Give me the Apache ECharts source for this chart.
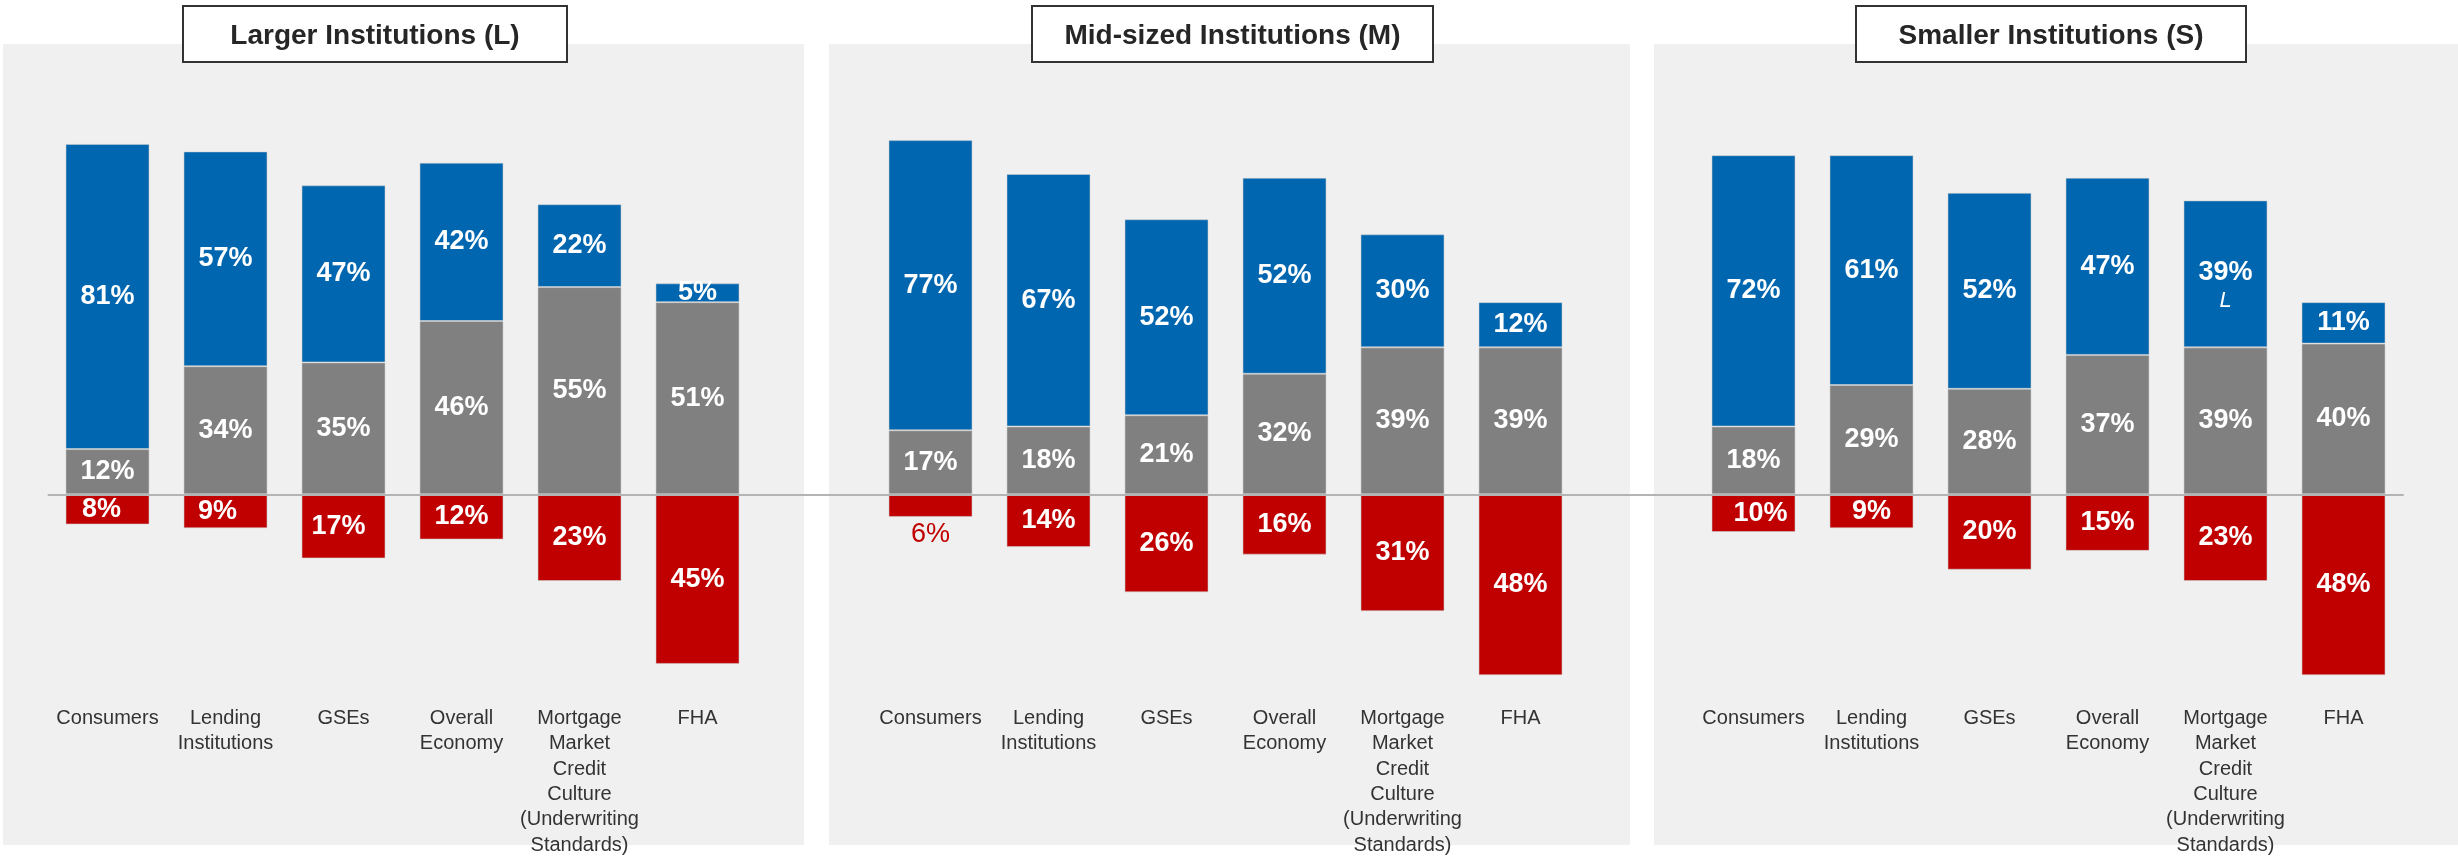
<!DOCTYPE html>
<html>
<head>
<meta charset="utf-8">
<title>Institution outlook by size</title>
<script src="https://cdn.jsdelivr.net/npm/echarts@6/dist/echarts.min.js"></script>
<style>
  html, body { margin: 0; padding: 0; background: #ffffff; }
  #chart { width: 2458px; height: 858px; }
</style>
</head>
<body>
<div id="chart"></div>
<script>
// ---- data ----
const categories = [
  'Consumers',
  'Lending\nInstitutions',
  'GSEs',
  'Overall\nEconomy',
  'Mortgage\nMarket\nCredit\nCulture\n(Underwriting\nStandards)',
  'FHA'
];
const panelTitles = ['Larger Institutions (L)', 'Mid-sized Institutions (M)', 'Smaller Institutions (S)'];

// blue (upper), gray (middle), red (below the line), in %
const positiveL = [81, 57, 47, 42, 22, 5];
const neutralL  = [12, 34, 35, 46, 55, 51];
const negativeL = [8, 9, 17, 12, 23, 45];

const positiveM = [77, 67, 52, 52, 30, 12];
const neutralM  = [17, 18, 21, 32, 39, 39];
const negativeM = [6, 14, 26, 16, 31, 48];

const positiveS = [72, 61, 52, 47, 39, 11];
const neutralS  = [18, 29, 28, 37, 39, 40];
const negativeS = [10, 9, 20, 15, 23, 48];
const positiveNotesS = ['', '', '', '', 'L', ''];

// ---- layout & style ----
const FONT = "'Liberation Sans', Arial, Helvetica, sans-serif";
const BLUE = '#0066b0', GRAY = '#808080', RED = '#c00000';
const Y_MIN = -55, Y_MAX = 100;
const GRID_TOP = 117.5, GRID_HEIGHT = 584.4;
const panels = [
  { key: 'L', pos: positiveL, mid: neutralL, neg: negativeL, notes: null,
    rect: [3, 44, 801, 801], grid: [48.5, 708], title: [183, 6, 384, 56] },
  { key: 'M', pos: positiveM, mid: neutralM, neg: negativeM, notes: null,
    rect: [829, 44, 801, 801], grid: [871.5, 708], title: [1032, 6, 401, 56] },
  { key: 'S', pos: positiveS, mid: neutralS, neg: negativeS, notes: positiveNotesS,
    rect: [1654, 44, 804, 801], grid: [1694.5, 708], title: [1856, 6, 390, 56] }
];
// small horizontal nudges of a few value labels
const labelNudge = { 'L-0': -6, 'L-1': -8, 'L-2': -5, 'S-0': 7 };

const grids = [], xAxes = [], yAxes = [], series = [], graphics = [];

panels.forEach((p, i) => {
  grids.push({ left: p.grid[0], width: p.grid[1], top: GRID_TOP, height: GRID_HEIGHT });
  xAxes.push({
    type: 'category', gridIndex: i, data: categories,
    axisLine: { show: false, onZero: false },
    axisTick: { show: false },
    axisLabel: { interval: 0, margin: 4, fontFamily: FONT, fontSize: 20, lineHeight: 25.4, color: '#333333' }
  });
  yAxes.push({ type: 'value', gridIndex: i, min: Y_MIN, max: Y_MAX, show: false, splitLine: { show: false } });

  const baseLabel = {
    show: true, position: 'inside', color: '#ffffff',
    fontFamily: FONT, fontSize: 27, fontWeight: 'bold'
  };
  const edge = { borderColor: 'rgba(205,205,205,0.55)', borderWidth: 1 };

  series.push({
    type: 'bar', name: 'Neutral', xAxisIndex: i, yAxisIndex: i, stack: 'p' + i,
    barWidth: 84, data: p.mid,
    itemStyle: Object.assign({ color: GRAY }, edge),
    label: Object.assign({}, baseLabel, { formatter: (d) => d.value + '%' })
  });

  series.push({
    type: 'bar', name: 'Positive', xAxisIndex: i, yAxisIndex: i, stack: 'p' + i,
    barWidth: 84,
    data: p.pos.map((v, k) => {
      const note = p.notes && p.notes[k];
      return note ? { value: v, label: { offset: [0, 13] } } : v;
    }),
    itemStyle: Object.assign({ color: BLUE }, edge),
    label: Object.assign({}, baseLabel, {
      formatter: (d) => {
        const note = p.notes && p.notes[d.dataIndex];
        return note ? d.value + '%\n{note|' + note + '}' : d.value + '%';
      },
      rich: {
        note: { color: '#ffffff', fontFamily: FONT, fontSize: 22, fontStyle: 'italic', fontWeight: 'normal', lineHeight: 28 }
      }
    })
  });

  series.push({
    type: 'bar', name: 'Negative', xAxisIndex: i, yAxisIndex: i, stack: 'p' + i,
    barWidth: 84,
    data: p.neg.map((v, k) => {
      const item = { value: -v };
      const dx = labelNudge[p.key + '-' + k];
      if (v < 7) {
        // short bars get their value written underneath in red
        item.label = { position: 'bottom', distance: 4, color: RED, fontWeight: 'normal' };
      } else if (dx) {
        item.label = { offset: [dx, 0] };
      }
      return item;
    }),
    itemStyle: Object.assign({ color: RED }, edge),
    label: Object.assign({}, baseLabel, { formatter: (d) => Math.abs(d.value) + '%' })
  });

  // panel background
  graphics.push({
    type: 'rect', z: -10, silent: true,
    shape: { x: p.rect[0], y: p.rect[1], width: p.rect[2], height: p.rect[3] },
    style: { fill: '#f0f0f0' }
  });
  // title box
  graphics.push({
    type: 'rect', z: 50, silent: true,
    shape: { x: p.title[0], y: p.title[1], width: p.title[2], height: p.title[3] },
    style: { fill: '#ffffff', stroke: '#333333', lineWidth: 2 }
  });
  graphics.push({
    type: 'text', z: 51, silent: true,
    x: p.title[0] + p.title[2] / 2, y: p.title[1] + p.title[3] / 2 + 2,
    style: {
      text: panelTitles[i], fill: '#262626', font: 'bold 28px ' + FONT,
      textAlign: 'center', textVerticalAlign: 'middle'
    }
  });
});

// one continuous baseline across all three panels at zero
grids.push({ left: 48.5, width: 2354.5, top: GRID_TOP, height: GRID_HEIGHT });
xAxes.push({
  type: 'category', gridIndex: 3, data: [''], z: 10,
  axisLine: { show: true, onZero: true, lineStyle: { color: '#b4b4b4', width: 2 } },
  axisTick: { show: false }, axisLabel: { show: false }, splitLine: { show: false }
});
yAxes.push({ type: 'value', gridIndex: 3, min: Y_MIN, max: Y_MAX, show: false, splitLine: { show: false } });

const chart = echarts.init(document.getElementById('chart'), null, { renderer: 'canvas' });
chart.setOption({
  animation: false,
  backgroundColor: '#ffffff',
  grid: grids,
  xAxis: xAxes,
  yAxis: yAxes,
  series: series,
  graphic: { elements: graphics }
});
</script>
</body>
</html>
